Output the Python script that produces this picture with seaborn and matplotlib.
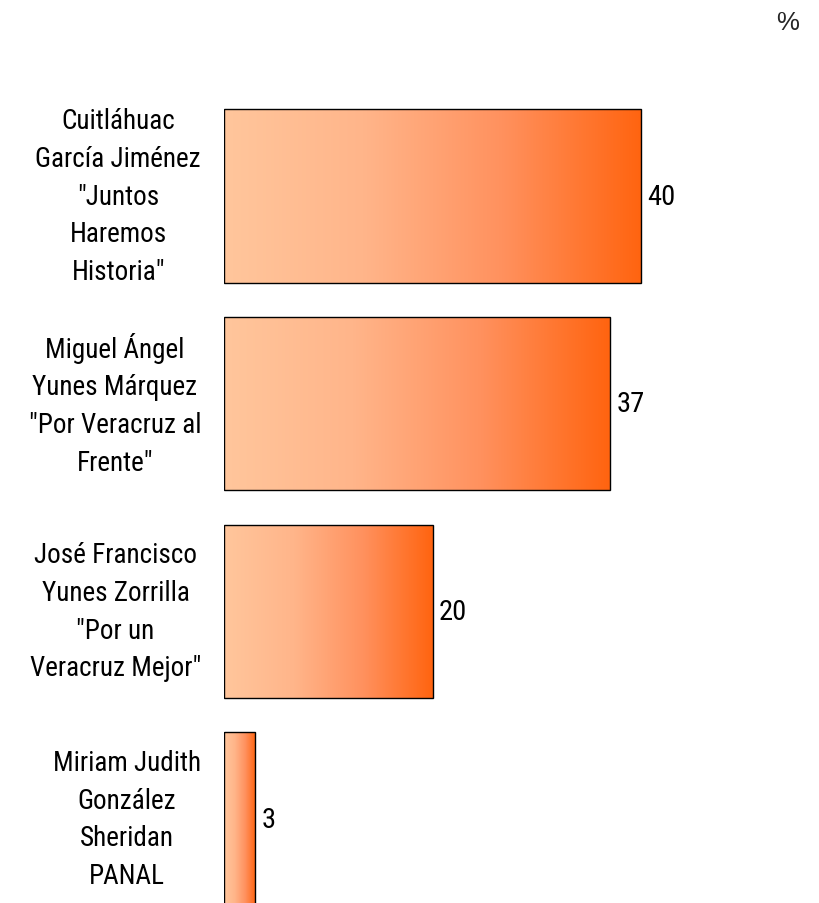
import numpy as np
import pandas as pd
import matplotlib
matplotlib.use("Agg")
import matplotlib.pyplot as plt
import seaborn as sns
from matplotlib.colors import LinearSegmentedColormap

candidates = [
    'Cuitláhuac\nGarcía Jiménez\n"Juntos\nHaremos\nHistoria"',
    'Miguel Ángel\nYunes Márquez\n"Por Veracruz al\nFrente"',
    'José Francisco\nYunes Zorrilla\n"Por un\nVeracruz Mejor"',
    'Miriam Judith\nGonzález\nSheridan\nPANAL',
]
values = [40, 37, 20, 3]
unit_label = "%"

sns.set_theme(style="white")
FONT = ['Liberation Sans Narrow', 'Roboto Condensed', 'Archivo Narrow', 'Liberation Sans', 'DejaVu Sans']
plt.rcParams['font.family'] = FONT
FS = 19.5

df = pd.DataFrame({"candidate": candidates, "value": values})

fig = plt.figure(figsize=(8.19, 9.04), dpi=100)
ax = fig.add_axes([224 / 819, 0, 1 - 224 / 819, 1])

sns.barplot(data=df, x="value", y="candidate", orient="h", ax=ax,
            width=0.835, color="#FF8040", edgecolor="black", linewidth=1.0)

ax.set_xlim(0, (819 - 224) / 10.43)
ax.set_ylim(3.404, -0.9485)

cmap = LinearSegmentedColormap.from_list("grad", ["#FFC69C", "#FFB58A", "#FF915E", "#FF6410"])
grad = np.linspace(0, 1, 256).reshape(1, -1)
for patch in ax.patches:
    x0, y0 = patch.get_x(), patch.get_y()
    w, h = patch.get_width(), patch.get_height()
    im = ax.imshow(grad, cmap=cmap, aspect="auto",
                   extent=[x0, x0 + w, y0 + h, y0], zorder=patch.get_zorder() - 0.1,
                   interpolation="bicubic")
    im.set_clip_path(patch)
    patch.set_facecolor("none")
    patch.set_zorder(3)

for i, v in enumerate(values):
    ax.text(v + 0.6, i, str(v), va="center", ha="left", fontsize=20.5,
            color="black", family=FONT)

ax.set_xlabel("")
ax.set_ylabel("")
ax.set_xticks([])
ax.tick_params(axis="y", length=0, pad=16.5, labelsize=FS)
for lbl in ax.get_yticklabels():
    lbl.set_multialignment("center")
    lbl.set_linespacing(1.51)
    lbl.set_verticalalignment("center")
    lbl.set_color("black")
for s in ax.spines.values():
    s.set_visible(False)

fig.text(788 / 819, 1 - 23 / 904, unit_label, ha="center", va="center",
         fontsize=18.5, family=['Liberation Sans', 'DejaVu Sans'])

fig.savefig("out.png", dpi=100)
